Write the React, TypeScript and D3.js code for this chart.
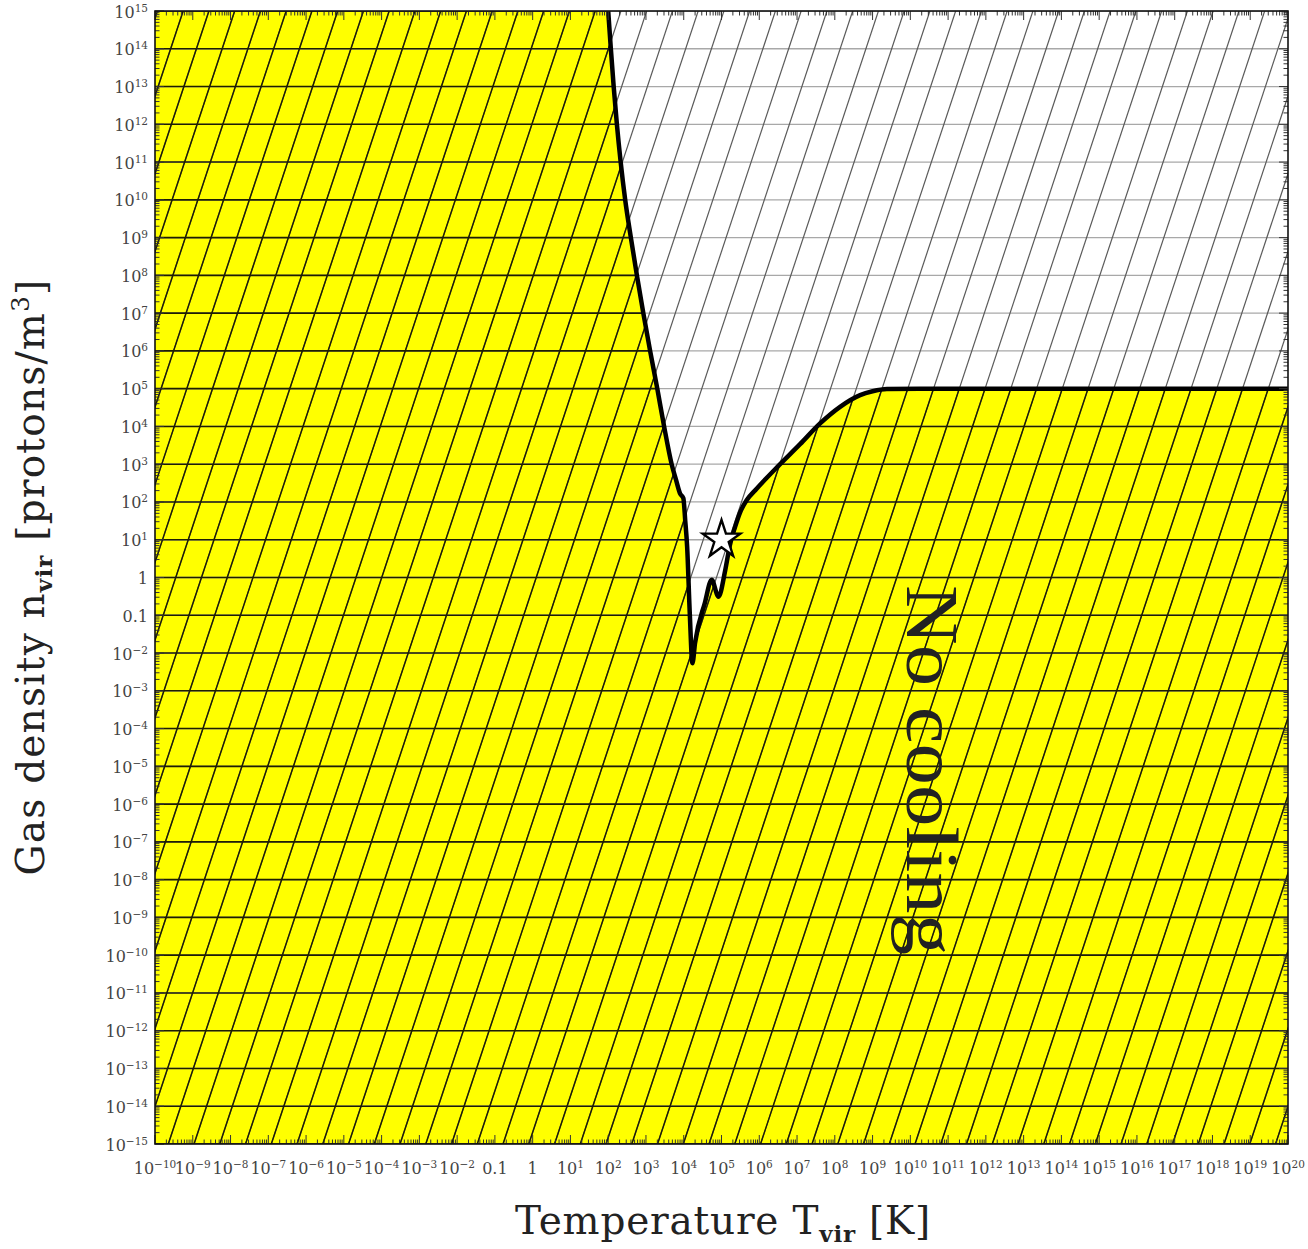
import React from "react";
import * as d3 from "d3";

// ---- data (log10 values) ----
const boundaryLogT = [
  2.0, 2.07, 2.145, 2.23, 2.33, 2.45, 2.6, 2.76, 2.93, 3.11, 3.3, 3.48, 3.68,
  3.8, 3.9, 3.99, 4.04, 4.09, 4.16, 4.23, 4.3, 4.56, 4.74, 4.92, 5.1, 5.22,
  5.36, 5.49, 5.67, 5.93, 6.5, 7.08, 7.61, 8.14, 8.67, 9.0, 9.38, 10.25, 20,
];
const boundaryLogN = [
  15, 14, 13, 12, 11, 10, 9, 8, 7, 6, 5, 4, 3, 2.57, 2.23, 2.1, 1.5, 0.82,
  -0.95, -2.27, -1.73, -0.67, -0.06, -0.51, 0.2, 0.85, 1.34, 1.72, 2.05, 2.35,
  2.95, 3.53, 4.08, 4.52, 4.83, 4.93, 4.99, 5.0, 5.0,
];
const starPoint = { T: 1e5, n: 10 };

const xTickExponents = [
  -10, -9, -8, -7, -6, -5, -4, -3, -2, -1, 0, 1, 2, 3, 4, 5, 6, 7, 8, 9, 10,
  11, 12, 13, 14, 15, 16, 17, 18, 19, 20,
];
const yTickExponents = [
  15, 14, 13, 12, 11, 10, 9, 8, 7, 6, 5, 4, 3, 2, 1, 0, -1, -2, -3, -4, -5,
  -6, -7, -8, -9, -10, -11, -12, -13, -14, -15,
];
const minorMultipliers = [2, 3, 4, 5, 6, 7, 8, 9];

const W = 1308;
const H = 1249;
const L = 155,
  R = 1288,
  T = 11,
  B = 1144;

const x = d3.scaleLog().domain([1e-10, 1e20]).range([L, R]);
const y = d3.scaleLog().domain([1e-15, 1e15]).range([B, T]);

const FONT = "'DejaVu Serif', serif";

function TickLabel({ e, ...rest }: any) {
  if (e === 0) return <text {...rest}>1</text>;
  if (e === -1) return <text {...rest}>0.1</text>;
  const s = e < 0 ? "\u2212" + Math.abs(e) : String(e);
  return (
    <text {...rest}>
      10
      <tspan fontSize={10.5} dy={-6}>
        {s}
      </tspan>
    </text>
  );
}

export default function App() {
  const pts: [number, number][] = boundaryLogT.map((t, i) => [
    Math.pow(10, t),
    Math.pow(10, boundaryLogN[i]),
  ]);
  const line = d3
    .line<[number, number]>()
    .x((d) => x(d[0]))
    .y((d) => y(d[1]))
    .curve(d3.curveMonotoneX);
  const curvePath = line(pts) || "";
  const yellowPath =
    curvePath +
    `L${x(1e20)},${y(1e-15)}L${x(1e-10)},${y(1e-15)}L${x(1e-10)},${y(1e15)}Z`;

  // hatch texture
  const spacing = 25.75;
  const slope = 0.3313;
  const hatch: number[] = [];
  for (let k = -20; k < 50; k++) hatch.push(L + 13.3 + k * spacing);
  const rise = (B - T) * slope;

  const gridYs = yTickExponents.map((e) => y(Math.pow(10, e)));

  const texture = (gridColor: string, hatchColor: string, gw: number, hw: number) => (
    <g>
      {gridYs.map((gy, i) => (
        <line key={"g" + i} x1={L} x2={R} y1={gy} y2={gy} stroke={gridColor} strokeWidth={gw} />
      ))}
      {hatch.map((bx, i) => (
        <line key={"h" + i} x1={bx} y1={B} x2={bx + rise} y2={T} stroke={hatchColor} strokeWidth={hw} />
      ))}
    </g>
  );

  const ticks: any[] = [];
  const tickColor = "#333";
  xTickExponents.forEach((e, i) => {
    const px = x(Math.pow(10, e));
    ticks.push(<line key={"xb" + i} x1={px} x2={px} y1={B} y2={B - 9} stroke={tickColor} />);
    ticks.push(<line key={"xt" + i} x1={px} x2={px} y1={T} y2={T + 9} stroke={tickColor} />);
    if (i < xTickExponents.length - 1)
      minorMultipliers.forEach((m) => {
        const mx = x(m * Math.pow(10, e));
        ticks.push(<line key={"xbm" + i + "_" + m} x1={mx} x2={mx} y1={B} y2={B - 4.5} stroke={tickColor} />);
        ticks.push(<line key={"xtm" + i + "_" + m} x1={mx} x2={mx} y1={T} y2={T + 4.5} stroke={tickColor} />);
      });
  });
  yTickExponents.forEach((e, i) => {
    const py = y(Math.pow(10, e));
    ticks.push(<line key={"yl" + i} y1={py} y2={py} x1={L} x2={L + 9} stroke={tickColor} />);
    ticks.push(<line key={"yr" + i} y1={py} y2={py} x1={R} x2={R - 9} stroke={tickColor} />);
    if (e > -15)
      minorMultipliers.forEach((m) => {
        const my = y(m * Math.pow(10, e - 1));
        ticks.push(<line key={"ylm" + i + "_" + m} y1={my} y2={my} x1={L} x2={L + 4.5} stroke={tickColor} />);
        ticks.push(<line key={"yrm" + i + "_" + m} y1={my} y2={my} x1={R} x2={R - 4.5} stroke={tickColor} />);
      });
  });

  const star = d3.symbol().type(d3.symbolStar).size(440)() || "";

  return (
    <svg
      width={W}
      height={H}
      style={{ position: "absolute", left: 0, top: 0, display: "block" }}
      fontFamily={FONT}
    >
      <defs>
        <clipPath id="plotClip">
          <rect x={L} y={T} width={R - L} height={B - T} />
        </clipPath>
        <clipPath id="yellowClip">
          <path d={yellowPath} />
        </clipPath>
      </defs>
      <rect x={0} y={0} width={W} height={H} fill="#fff" />
      <g clipPath="url(#plotClip)">
        <rect x={L} y={T} width={R - L} height={B - T} fill="#fff" />
        <path d={yellowPath} fill="#ffff00" />
        {texture("#a8a8a8", "#5a5a5a", 1.3, 1.2)}
        <g clipPath="url(#yellowClip)">{texture("#1e1e00", "#1e1e00", 1.6, 1.4)}</g>
        <path d={curvePath} fill="none" stroke="#000" strokeWidth={4.5} strokeLinejoin="round" />
        <path
          d={star}
          transform={`translate(${x(starPoint.T)},${y(starPoint.n)})`}
          fill="#fff"
          stroke="#000"
          strokeWidth={2.4}
          strokeLinejoin="miter"
        />
      </g>
      <g>{ticks}</g>
      <rect x={L} y={T} width={R - L} height={B - T} fill="none" stroke="#111" strokeWidth={1.6} />

      {/* tick labels */}
      <g fill="#444" fontSize={16}>
        {yTickExponents.map((e, i) => (
          <TickLabel key={"yl" + i} e={e} x={L - 7} y={y(Math.pow(10, e)) + 6.5} textAnchor="end" />
        ))}
        {xTickExponents.map((e, i) => (
          <TickLabel key={"xl" + i} e={e} x={x(Math.pow(10, e))} y={1174} textAnchor="middle" />
        ))}
      </g>

      {/* axis titles */}
      <text x={723} y={1234} textAnchor="middle" fontSize={39} letterSpacing={0.8} fill="#222">
        Temperature T
        <tspan fontSize={23} fontWeight="bold" dy={8}>
          vir
        </tspan>
        <tspan dy={-8}> [K]</tspan>
      </text>
      <text
        transform="translate(44,577) rotate(-90)"
        textAnchor="middle"
        fontSize={39}
        letterSpacing={1.2}
        fill="#222"
      >
        Gas density n
        <tspan fontSize={23} fontWeight="bold" dy={8}>
          vir
        </tspan>
        <tspan dy={-8}> [protons/m</tspan>
        <tspan fontSize={25} dy={-15}>
          3
        </tspan>
        <tspan dy={15}>]</tspan>
      </text>

      <text
        transform="translate(907,585) rotate(90)"
        fontFamily="'Liberation Serif', serif"
        fontSize={74}
        fill="#222"
        textLength={370}
        lengthAdjust="spacingAndGlyphs"
      >
        No cooling
      </text>
    </svg>
  );
}
